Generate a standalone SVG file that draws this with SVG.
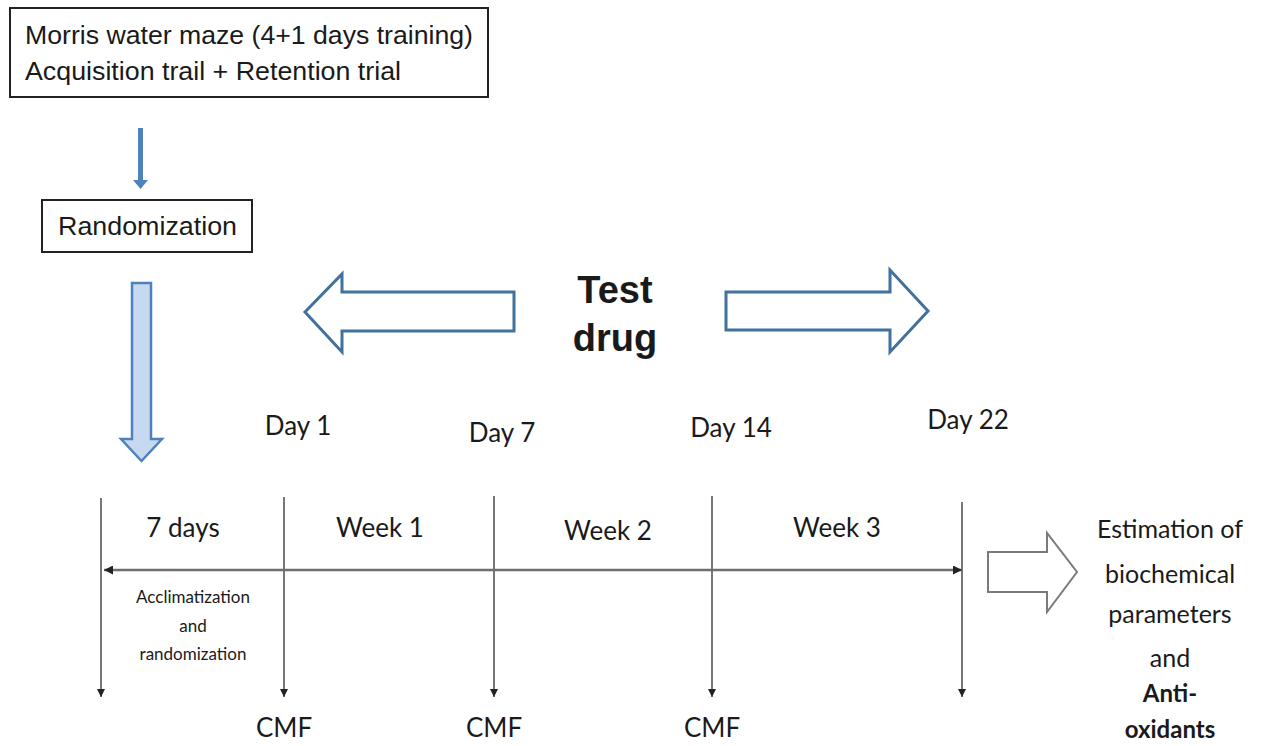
<svg xmlns="http://www.w3.org/2000/svg" width="1266" height="746" viewBox="0 0 1266 746">
<style>
.box{fill:#fff;stroke:#222;stroke-width:2}
.ar{font-family:"Liberation Sans",Arial,sans-serif;fill:#1a1a1a}
.cal{font-family:Lato,"Open Sans",sans-serif;fill:#1a1a1a}
.tl{stroke:#555;stroke-width:1.6;fill:none}
.hz{stroke:#6e6e6e;stroke-width:2.5;fill:none}
.blue{fill:#fff;stroke:#41719c;stroke-width:3;stroke-linejoin:miter}
</style>
<defs>
<marker id="ah" viewBox="0 0 10 10" refX="10" refY="5" markerWidth="8" markerHeight="8" markerUnits="userSpaceOnUse" orient="auto">
<path d="M0,0 L10,5 L0,10 z" fill="#222"/>
</marker>
<marker id="ah2" viewBox="0 0 10 10" refX="10" refY="5" markerWidth="9" markerHeight="9" markerUnits="userSpaceOnUse" orient="auto-start-reverse">
<path d="M0,0 L10,5 L0,10 z" fill="#222"/>
</marker>
</defs>
<rect width="1266" height="746" fill="#fff"/>

<g id="morris">
<rect class="box" x="10" y="8" width="478" height="89"/>
<text class="ar" x="25" y="44" font-size="26.5" textLength="448" lengthAdjust="spacingAndGlyphs">Morris water maze (4+1 days training)</text>
<text class="ar" x="25" y="80" font-size="26.5" textLength="376" lengthAdjust="spacingAndGlyphs">Acquisition trail + Retention trial</text>
</g>

<g id="randomization">
<rect class="box" x="42" y="200" width="210" height="52"/>
<text class="ar" x="58" y="235" font-size="26.5" textLength="179" lengthAdjust="spacingAndGlyphs">Randomization</text>
</g>

<g id="testdrug">
<text class="ar" x="615" y="303" font-size="38" font-weight="bold" text-anchor="middle" fill="#000">Test</text>
<text class="ar" x="615" y="351" font-size="38" font-weight="bold" text-anchor="middle" fill="#000">drug</text>
<path class="blue" d="M514,292 L342,292 L342,274 L305,312 L342,352 L342,331 L514,331 Z"/>
<path class="blue" d="M726,292 L890,292 L890,270 L928,311 L890,352 L890,330 L726,330 Z"/>
</g>

<g id="days">
<text class="cal" x="298" y="435" font-size="26" text-anchor="middle">Day 1</text>
<text class="cal" x="502" y="442" font-size="26" text-anchor="middle">Day 7</text>
<text class="cal" x="731" y="437" font-size="26" text-anchor="middle">Day 14</text>
<text class="cal" x="968" y="429" font-size="26" text-anchor="middle">Day 22</text>
</g>

<g id="periods">
<text class="cal" x="183" y="537" font-size="26" text-anchor="middle">7 days</text>
<text class="cal" x="380" y="537" font-size="26" text-anchor="middle">Week 1</text>
<text class="cal" x="608" y="540" font-size="26" text-anchor="middle">Week 2</text>
<text class="cal" x="837" y="537" font-size="26" text-anchor="middle">Week 3</text>
<text class="cal" x="193" y="603" font-size="17" text-anchor="middle" fill="#333">Acclimatization</text>
<text class="cal" x="193" y="632" font-size="17" text-anchor="middle" fill="#333">and</text>
<text class="cal" x="193" y="660" font-size="17" text-anchor="middle" fill="#333">randomization</text>
</g>

<g id="cmf">
<text class="cal" x="284" y="737" font-size="26" text-anchor="middle">CMF</text>
<text class="cal" x="494" y="737" font-size="26" text-anchor="middle">CMF</text>
<text class="cal" x="712" y="737" font-size="26" text-anchor="middle">CMF</text>
</g>

<g id="estimation">
<path d="M988,552 L1047,552 L1047,533 L1077,572 L1047,612 L1047,592 L988,592 Z" fill="#fff" stroke="#7a7a7a" stroke-width="2"/>
<text class="cal" x="1170" y="538" font-size="25" text-anchor="middle">Estimation of</text>
<text class="cal" x="1170" y="583" font-size="25" text-anchor="middle">biochemical</text>
<text class="cal" x="1170" y="623" font-size="25" text-anchor="middle">parameters</text>
<text class="cal" x="1170" y="667" font-size="25" text-anchor="middle">and</text>
<text class="cal" x="1170" y="702" font-size="24" font-weight="bold" text-anchor="middle" fill="#1f3864">Anti-</text>
<text class="cal" x="1170" y="738" font-size="24" font-weight="bold" text-anchor="middle" fill="#1f3864">oxidants</text>
</g>

<g id="connectors">
<path d="M140.5,128 L140.5,181" stroke="#4f81bd" stroke-width="5" fill="none"/>
<path d="M133,180 L148,180 L140.5,189 Z" fill="#4f81bd"/>
<path d="M132,283 L151,283 L151,439 L162,439 L141.5,461 L121,439 L132,439 Z" fill="#c6d9f1" stroke="#4f81bd" stroke-width="2.5"/>
<line class="tl" x1="101" y1="498" x2="101" y2="697" marker-end="url(#ah)"/>
<line class="tl" x1="284" y1="497" x2="284" y2="697" marker-end="url(#ah)"/>
<line class="tl" x1="494" y1="496" x2="494" y2="697" marker-end="url(#ah)"/>
<line class="tl" x1="712" y1="496" x2="712" y2="697" marker-end="url(#ah)"/>
<line class="tl" x1="962" y1="502" x2="962" y2="697" marker-end="url(#ah)"/>
<line class="hz" x1="104" y1="570" x2="962" y2="570" marker-start="url(#ah2)" marker-end="url(#ah2)"/>
</g>
</svg>
